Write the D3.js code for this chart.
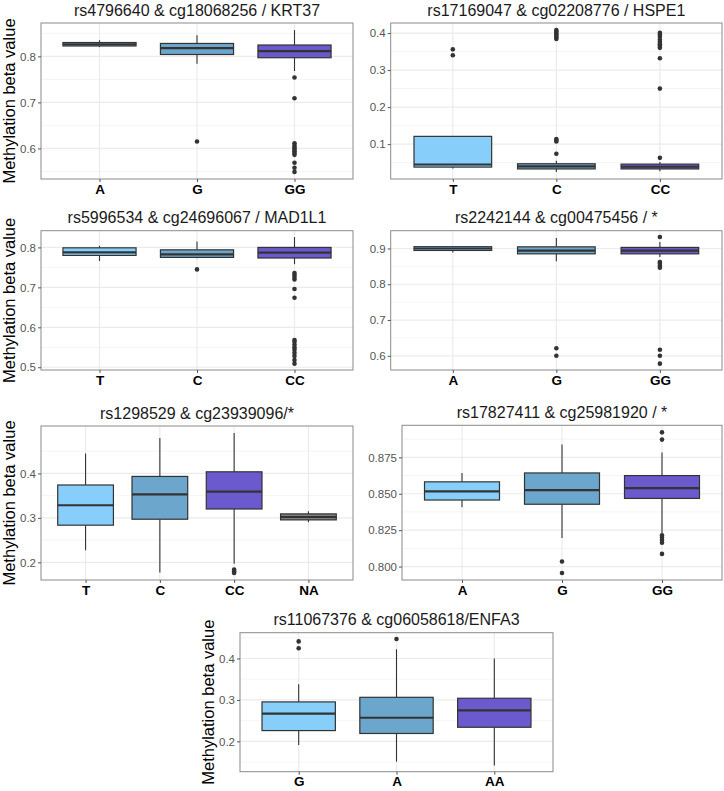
<!DOCTYPE html>
<html><head><meta charset="utf-8">
<script src="https://cdn.jsdelivr.net/npm/d3@7"></script>
<style>body{margin:0;background:#fff;}svg{display:block;font-family:"Liberation Sans",Arial,sans-serif;}</style>
</head><body>
<script>
// ---- data ----
const titles = [
  "rs4796640 & cg18068256 / KRT37",
  "rs17169047 & cg02208776 / HSPE1",
  "rs5996534 & cg24696067 / MAD1L1",
  "rs2242144 & cg00475456 / *",
  "rs1298529 & cg23939096/*",
  "rs17827411 & cg25981920 / *",
  "rs11067376 & cg06058618/ENFA3"
];
const categories = [
  ["A","G","GG"],
  ["T","C","CC"],
  ["T","C","CC"],
  ["A","G","GG"],
  ["T","C","CC","NA"],
  ["A","G","GG"],
  ["G","A","AA"]
];
const whiskerLow = [
  [0.820,0.784,0.768],[0.034,0.025,0.027],[0.766,0.773,0.758],[0.889,0.864,0.876],
  [0.227,0.177,0.197,0.290],[0.8407,0.8196,0.823],[0.191,0.151,0.142]
];
const q1 = [
  [0.8225,0.804,0.797],[0.038,0.033,0.033],[0.780,0.775,0.7735],[0.8945,0.885,0.885],
  [0.2836,0.297,0.320,0.2955],[0.8457,0.8428,0.8468],[0.226,0.219,0.234]
];
const medians = [
  [0.826,0.818,0.8115],[0.045,0.040,0.039],[0.7876,0.7826,0.787],[0.900,0.894,0.894],
  [0.3284,0.353,0.359,0.302],[0.8516,0.8525,0.8539],[0.2667,0.257,0.2746]
];
const q3 = [
  [0.830,0.828,0.8246],[0.121,0.047,0.046],[0.799,0.794,0.800],[0.905,0.9046,0.903],
  [0.374,0.3933,0.4037,0.309],[0.8582,0.8643,0.8625],[0.2952,0.3063,0.304]
];
const whiskerHigh = [
  [0.835,0.846,0.857],[0.121,0.055,0.052],[0.804,0.815,0.826],[0.906,0.929,0.918],
  [0.4448,0.480,0.491,0.315],[0.8643,0.8838,0.8784],[0.338,0.4222,0.400]
];
const outliers = [
  [[],[0.615],[0.754,0.709,0.611,0.606,0.602,0.598,0.594,0.590,0.586,0.569,0.558,0.549]],
  [[0.356,0.340],[0.074,0.107,0.111,0.114,0.384,0.388,0.392,0.396,0.400,0.404,0.408],[0.063,0.250,0.332,0.360,0.365,0.370,0.376,0.382,0.390,0.396,0.401]],
  [[],[0.745],[0.736,0.731,0.726,0.720,0.696,0.674,0.568,0.564,0.557,0.550,0.544,0.536,0.528,0.518,0.509]],
  [[],[0.621,0.600],[0.932,0.862,0.857,0.851,0.846,0.617,0.600,0.578]],
  [[],[],[0.184,0.180,0.176],[]],
  [[],[0.8035,0.7956],[0.8922,0.8872,0.8214,0.8200,0.8182,0.8164,0.8087]],
  [[0.4413,0.4246],[0.447],[]]
];
const yTicks = [
  [0.6,0.7,0.8],[0.1,0.2,0.3,0.4],[0.5,0.6,0.7,0.8],[0.6,0.7,0.8,0.9],
  [0.2,0.3,0.4],[0.800,0.825,0.850,0.875],[0.2,0.3,0.4]
];
const tickFormats = [".1f",".1f",".1f",".1f",".1f",".3f",".1f"];
const yLabel = "Methylation beta value";

// ---- layout (pixels) ----
const layout = [
  {L:41, R:353, T:23, B:179, ylab:true},
  {L:390.7, R:722, T:23, B:179, ylab:false},
  {L:41, R:353, T:230.7, B:370, ylab:true},
  {L:390.7, R:722, T:230.7, B:370, ylab:false},
  {L:41, R:353, T:426, B:580, ylab:true},
  {L:402, R:722, T:425.3, B:580, ylab:false},
  {L:240, R:553, T:632.7, B:771.7, ylab:true}
];
const fillColors = ["#87CEFA","#6CA6CD","#6A5ACD"];
const naFill = "#7F7F7F";
const dark = "#333333";

const svg = d3.select("body").append("svg").attr("width",724).attr("height",791);

titles.forEach((title,i)=>{
  const lo = layout[i];
  const cats = categories[i];
  const allVals = [].concat(whiskerLow[i], whiskerHigh[i], q1[i], q3[i], ...outliers[i]);
  const mn = d3.min(allVals), mx = d3.max(allVals), pad = (mx-mn)*0.05;
  const y = d3.scaleLinear().domain([mn-pad, mx+pad]).range([lo.B, lo.T]);
  const x = d3.scalePoint().domain(cats).range([lo.L, lo.R]).padding(0.6);
  const bw = x.step()*0.75;
  const g = svg.append("g");

  // minor grid
  const tks = yTicks[i];
  const dt = tks[1]-tks[0];
  const minors = [];
  for (let k=-1;k<tks.length;k++){
    const v = tks[0]+dt*(k+0.5);
    if (v>y.domain()[0] && v<y.domain()[1]) minors.push(v);
  }
  g.selectAll(".minor").data(minors).join("line")
    .attr("x1",lo.L).attr("x2",lo.R).attr("y1",d=>y(d)).attr("y2",d=>y(d))
    .attr("stroke","#f2f2f2").attr("stroke-width",0.8);
  // major grid
  g.selectAll(".majory").data(tks).join("line")
    .attr("x1",lo.L).attr("x2",lo.R).attr("y1",d=>y(d)).attr("y2",d=>y(d))
    .attr("stroke","#ebebeb").attr("stroke-width",1.2);
  g.selectAll(".majorx").data(cats).join("line")
    .attr("x1",d=>x(d)).attr("x2",d=>x(d)).attr("y1",lo.T).attr("y2",lo.B)
    .attr("stroke","#ebebeb").attr("stroke-width",1.2);

  // boxes
  cats.forEach((c,j)=>{
    const cx = x(c);
    const fill = c==="NA" ? naFill : fillColors[j];
    g.append("line").attr("x1",cx).attr("x2",cx)
      .attr("y1",y(whiskerHigh[i][j])).attr("y2",y(q3[i][j]))
      .attr("stroke",dark).attr("stroke-width",1.1);
    g.append("line").attr("x1",cx).attr("x2",cx)
      .attr("y1",y(q1[i][j])).attr("y2",y(whiskerLow[i][j]))
      .attr("stroke",dark).attr("stroke-width",1.1);
    g.append("rect").attr("x",cx-bw/2).attr("width",bw)
      .attr("y",y(q3[i][j])).attr("height",Math.max(0,y(q1[i][j])-y(q3[i][j])))
      .attr("fill",fill).attr("stroke",dark).attr("stroke-width",1.2);
    g.append("line").attr("x1",cx-bw/2).attr("x2",cx+bw/2)
      .attr("y1",y(medians[i][j])).attr("y2",y(medians[i][j]))
      .attr("stroke",dark).attr("stroke-width",2.2);
    g.selectAll(null).data(outliers[i][j]).join("circle")
      .attr("cx",cx).attr("cy",d=>y(d)).attr("r",2.3).attr("fill",dark);
  });

  // border
  g.append("rect").attr("x",lo.L).attr("y",lo.T).attr("width",lo.R-lo.L).attr("height",lo.B-lo.T)
    .attr("fill","none").attr("stroke","#8a8a8a").attr("stroke-width",1);

  // y axis
  const ya = d3.axisLeft(y).tickValues(tks).tickFormat(d3.format(tickFormats[i])).tickSize(3).tickPadding(2);
  const yg = g.append("g").attr("transform",`translate(${lo.L},0)`).call(ya);
  yg.select(".domain").remove();
  yg.selectAll(".tick line").attr("stroke","#555");
  yg.selectAll(".tick text").attr("fill","#555").attr("font-size",11.5);

  // x axis
  const xa = d3.axisBottom(x).tickSize(3).tickPadding(2);
  const xg = g.append("g").attr("transform",`translate(0,${lo.B})`).call(xa);
  xg.select(".domain").remove();
  xg.selectAll(".tick line").attr("stroke","#555");
  xg.selectAll(".tick text").attr("fill","#000").attr("font-size",13.5).attr("font-weight","bold");

  // title
  g.append("text").attr("x",(lo.L+lo.R)/2).attr("y",lo.T-7.5)
    .attr("text-anchor","middle").attr("font-size",16).attr("fill","#1a1a1a").text(title);

  // y label
  if (lo.ylab){
    const cy = (lo.T+lo.B)/2;
    const lx = lo.L - 26;
    g.append("text").attr("transform",`translate(${lx},${cy}) rotate(-90)`)
      .attr("text-anchor","middle").attr("font-size",16.5).attr("fill","#000").text(yLabel);
  }
});
</script>
</body></html>
